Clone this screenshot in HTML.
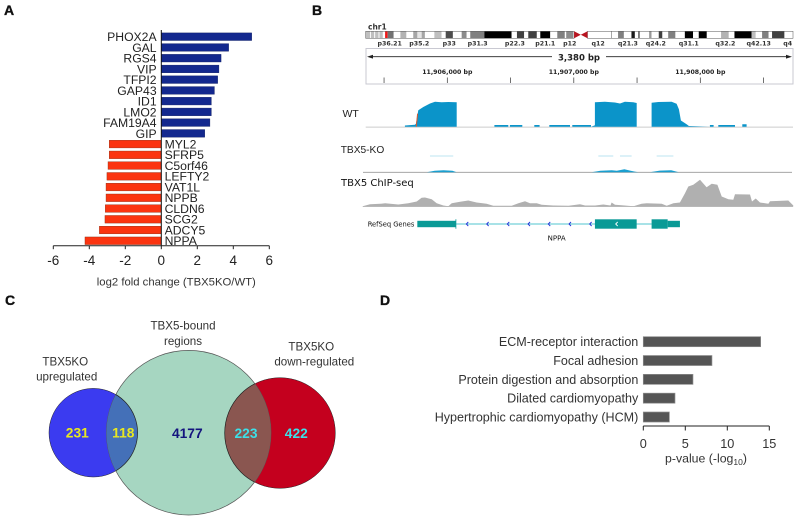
<!DOCTYPE html>
<html lang="en">
<head>
<meta charset="utf-8">
<title>TBX5 knockout figure</title>
<style>
html,body{margin:0;padding:0;background:#fff;}
#figure{display:block;width:800px;height:520px;font-family:"Liberation Sans",sans-serif;}
text{font-family:"Liberation Sans",sans-serif;}
.dj{font-family:"DejaVu Sans",sans-serif;}
.letter{stroke:#111;stroke-width:0.35;}
</style>
</head>
<body>
<svg id="figure" xmlns="http://www.w3.org/2000/svg" width="800" height="520" viewBox="0 0 800 520">
  <rect x="0" y="0" width="800" height="520" fill="#fff"/>
  <g id="panelA">
    <text class="letter" x="4" y="15" font-size="14" font-weight="bold" fill="#111">A</text>
  </g>
  <g id="panelB">
    <text class="letter" x="312" y="15" font-size="14" font-weight="bold" fill="#111">B</text>
    <text class="dj" x="368" y="29.5" font-size="7.5" font-weight="bold" fill="#333">chr1</text>
    <rect x="366" y="48.5" width="427" height="35.5" fill="none" stroke="#c9c9d2" stroke-width="1"/>
    <text class="dj" x="579" y="60.5" font-size="8.5" font-weight="bold" text-anchor="middle" fill="#222">3,380 bp</text>
    <line x1="370" y1="56.7" x2="552" y2="56.7" stroke="#222" stroke-width="0.8"/>
    <line x1="606" y1="56.7" x2="789" y2="56.7" stroke="#222" stroke-width="0.8"/>
    <polygon points="367,56.7 373,54.8 373,58.6" fill="#222"/>
    <polygon points="792,56.7 786,54.8 786,58.6" fill="#222"/>
    <text x="342.5" y="117" font-size="10.5" fill="#222">WT</text>
    <text x="340.7" y="153" font-size="10.2" fill="#222">TBX5-KO</text>
    <text class="dj" x="341" y="186" font-size="10" fill="#111">TBX5 ChIP-seq</text>
    <text class="dj" x="367.7" y="226.3" font-size="6.7" fill="#111">RefSeq Genes</text>
    <text class="dj" x="556.7" y="240.7" font-size="7" text-anchor="middle" fill="#111">NPPA</text>
  </g>
  <g id="panelC">
    <text class="letter" x="5" y="305" font-size="14" font-weight="bold" fill="#111">C</text>
    <defs>
      <clipPath id="clipGreen"><circle cx="188.7" cy="432.7" r="82.3"/></clipPath>
    </defs>
    <circle cx="93.3" cy="432.7" r="44.3" fill="#3b3bf0" stroke="#222" stroke-width="0.5"/>
    <circle cx="280" cy="433" r="55.3" fill="#c4001e" stroke="#222" stroke-width="0.5"/>
    <circle cx="188.7" cy="432.7" r="82.3" fill="#a6d6c1" stroke="#555" stroke-width="0.7"/>
    <g clip-path="url(#clipGreen)">
      <circle cx="93.3" cy="432.7" r="44.3" fill="#4470b8" stroke="#222" stroke-width="0.7"/>
      <circle cx="280" cy="433" r="55.3" fill="#8a5650" stroke="#222" stroke-width="0.7"/>
    </g>
    <g font-size="13.8" font-weight="bold" text-anchor="middle">
      <text x="77.3" y="437.5" fill="#e8e820">231</text>
      <text x="123.3" y="437.5" fill="#e8e820">118</text>
      <text x="187.3" y="438" fill="#14147e">4177</text>
      <text x="246" y="438" fill="#3de0e8">223</text>
      <text x="296.3" y="438" fill="#3de0e8">422</text>
    </g>
    <g font-size="11.6" text-anchor="middle" fill="#333">
      <text x="183" y="329.5">TBX5-bound</text>
      <text x="183" y="345">regions</text>
      <text x="65.3" y="365.5">TBX5KO</text>
      <text x="66.7" y="380.5">upregulated</text>
      <text x="311.3" y="350.5">TBX5KO</text>
      <text x="314.3" y="365.5">down-regulated</text>
    </g>
  </g>
  <g id="panelD">
    <text class="letter" x="380" y="305" font-size="14" font-weight="bold" fill="#111">D</text>
  </g>
</svg>
<script>
// Panel A data
const geneNames = ['PHOX2A','GAL','RGS4','VIP','TFPI2','GAP43','ID1','LMO2','FAM19A4','GIP','MYL2','SFRP5','C5orf46','LEFTY2','VAT1L','NPPB','CLDN6','SCG2','ADCY5','NPPA'];
const foldChanges = [5.02,3.74,3.32,3.2,3.13,2.95,2.78,2.78,2.7,2.41,-2.89,-2.89,-2.96,-3.02,-3.07,-3.07,-3.11,-3.13,-3.44,-4.24];
const foldTicks = [-6,-4,-2,0,2,4,6];

// Panel D data
const pathwayNames = ['ECM-receptor interaction','Focal adhesion','Protein digestion and absorption','Dilated cardiomyopathy','Hypertrophic cardiomyopathy (HCM)'];
const pathwayValues = [13.97,8.17,5.91,3.77,3.1];
const pathwayTicks = [0,5,10,15];

// Panel B data: chromosome 1 ideogram (Mb, stain %; -1 = marked region, null = centromere gap)
const bandStarts = [0,2.5,3,5,5.5,7.5,8,10,11.3,12.8,16.3,20.2,23.7,27.7,30.1,32.6,34.5,40,44.2,46.6,50.8,55.9,58.8,60.9,69.1,85,88.1,92.3,94.7,99.7,101.7,107.5,111.6,116,116.8,120.9,129.2,142.9,143.3,147,150.4,154.8,156.8,158.7,159.7,165.1,166.5,170.7,172.8,176.2,180.4,185.9,190.7,194,198.7,207,211.5,214.8,224.8,227.2,230.9,234.7,236.7,243.9];
const bandStains = [25,0,25,0,25,0,25,0,-1,55,0,30,0,35,10,35,0,25,0,70,0,45,0,50,100,0,75,0,75,0,100,0,50,0,45,null,0,60,0,50,0,90,0,60,0,40,0,75,0,50,0,100,0,100,0,30,0,100,25,0,50,0,75,0];
const chromosomeEndMb = 248.9;
const centromereMb = [121.4,125.3,129.2];
const cytobandNames = ['p36.21','p35.2','p33','p31.3','p22.3','p21.1','p12','q12','q21.3','q24.2','q31.1','q32.2','q42.13','q4'];
const cytobandCentersMb = [14,31.2,48.7,65.2,86.9,104.6,118.9,135.4,152.7,169,188.2,209.5,228.9,245.8];

// Panel B data: genomic tracks (bp relative to 11,906,000)
const rulerTicks = [-500,0,500,1000,1500,2000,2500];
const rulerLabels = ['','11,906,000 bp','','11,907,000 bp','','11,908,000 bp',''];
const wtPositions = [-335,-256,-248,-242,-229,-190,-137,-97,-45,8,74,74,372,372,482,482,495,495,593,593,688,688,730,730,806,806,970,970,988,988,1136,1136,1157,1167,1167,1246,1325,1365,1404,1470,1497,1497,1615,1615,1668,1773,1813,1831,1847,1892,1910,2076,2076,2105,2105,2142,2142,2274,2274,2332,2332,2366,2366];
const wtValues = [5,8,12,30,66,79,93,100,98,99,98,0,0,7,7,0,0,7,7,0,0,7,7,0,0,7,7,0,0,7,7,0,4,6,98,100,97,93,100,98,95,0,0,96,99,100,92,70,25,10,3,0,7,7,0,0,7,7,0,0,10,10,0];
const koPositions = [-163,-100,-30,40,74,1140,1210,1300,1340,1400,1450,1510,1600,1680,1770,1830];
const koValues = [0,6,8,6,0,0,6,8,6,12,6,0,0,7,8,0];
const koDashStarts = [-137,1194,1365,1655];
const koDashEnds = [47,1312,1457,1787];
const chipPositions = [-677,-611,-530,-492,-387,-308,-242,-203,-176,-123,-84,-31,8,35,101,166,232,311,364,509,562,614,654,707,746,838,959,1049,1089,1168,1233,1290,1299,1326,1379,1471,1536,1576,1695,1734,1787,1839,1879,1905,1945,1998,2050,2090,2135,2169,2222,2261,2274,2393,2409,2438,2472,2538,2551,2696,2735];
const chipValues = [0,7,8,10,6,10,15,26,27,22,10,3,1,10,14,18,12,8,2,2,10,16,10,10,5,3,2,7,3,3,6,3,12,5,4,1,8,10,8,2,10,12,40,60,65,80,58,68,65,30,22,20,37,36,15,24,12,8,16,18,3];
const exonStarts = [-237,1167,1615,1742];
const exonEnds = [68,1497,1742,1839];
const exonIsCoding = [false,true,true,false];
const intronStart = 68;
const intronEnd = 1615;
const chevronPositions = [158,319,482,646,806,970,1133];
const codingChevronPosition = 1339;

const NS = 'http://www.w3.org/2000/svg';
function mk(tag, attrs, parent, content) {
  const el = document.createElementNS(NS, tag);
  for (const k in attrs) el.setAttribute(k, attrs[k]);
  if (content !== undefined) el.textContent = content;
  parent.appendChild(el);
  return el;
}
function slug(s) { return s.toLowerCase().replace(/[^a-z0-9]+/g, '-').replace(/^-|-$/g, ''); }

// ---------- Panel A ----------
(function () {
  const g = document.getElementById('panelA');
  const xA = v => 161.3 + v * 18;
  const yA = i => 36.7 + i * 10.74;
  const axisY = 245.7;
  geneNames.forEach((name, i) => {
    const v = foldChanges[i];
    const bar = mk('rect', {x: Math.min(xA(v), xA(0)), y: yA(i) - 3.8, width: Math.abs(xA(v) - xA(0)), height: 7.6, fill: v > 0 ? '#13288e' : '#fb3410', stroke: v > 0 ? '#0e1c60' : '#8a2a10', 'stroke-width': 0.4}, g);
    
    
    const lab = mk('text', {x: v > 0 ? 156.6 : 164.6, y: yA(i) + 4.4, 'font-size': 12.2, 'text-anchor': v > 0 ? 'end' : 'start', fill: '#222'}, g, name);
    
    
  });
  const yAxis = mk('line', {x1: xA(0), y1: 30, x2: xA(0), y2: axisY, stroke: '#111', 'stroke-width': 1}, g);
  
  
  const xAxis = mk('line', {x1: xA(foldTicks[0]), y1: axisY, x2: xA(foldTicks[foldTicks.length - 1]), y2: axisY, stroke: '#222', 'stroke-width': 1}, g);
  
  
  foldTicks.forEach(t => {
    const tick = mk('line', {x1: xA(t), y1: axisY, x2: xA(t), y2: axisY + 3.5, stroke: '#222', 'stroke-width': 1}, g);
    
    
    const lab = mk('text', {x: xA(t), y: 264.8, 'font-size': 13.5, 'text-anchor': 'middle', fill: '#222'}, g, String(t));
    
    
  });
  const title = mk('text', {x: 176.3, y: 285.5, 'font-size': 11, 'text-anchor': 'middle', fill: '#333', textLength: 159, lengthAdjust: 'spacingAndGlyphs'}, g, 'log2 fold change (TBX5KO/WT)');
  
  
})();

// ---------- Panel B ----------
(function () {
  const g = document.getElementById('panelB');
  const xMb = m => 365.7 + m * (427.3 / chromosomeEndMb);
  const xBp = b => 447.3 + b * 0.1265;
  const top = 31.3, h = 7;
  bandStarts.forEach((s, i) => {
    const stain = bandStains[i];
    if (stain === null) return;
    const e = i + 1 < bandStarts.length ? bandStarts[i + 1] : chromosomeEndMb;
    const c = Math.round(255 * (1 - stain / 100));
    const band = mk('rect', {x: xMb(s), y: top, width: xMb(e) - xMb(s), height: h, fill: stain < 0 ? '#f01818' : 'rgb(' + c + ',' + c + ',' + c + ')'}, g);
    
    
  });
  const pOutline = mk('rect', {x: xMb(0), y: top, width: xMb(centromereMb[0]) - xMb(0), height: h, fill: 'none', stroke: '#555', 'stroke-width': 0.5}, g);
  
  
  const qOutline = mk('rect', {x: xMb(centromereMb[2]), y: top, width: xMb(chromosomeEndMb) - xMb(centromereMb[2]), height: h, fill: 'none', stroke: '#555', 'stroke-width': 0.5}, g);
  
  
  const cen = mk('polygon', {points: [
    xMb(centromereMb[0]) + ',' + top, xMb(centromereMb[1]) + ',' + (top + h / 2), xMb(centromereMb[2]) + ',' + top,
    xMb(centromereMb[2]) + ',' + (top + h), xMb(centromereMb[1]) + ',' + (top + h / 2), xMb(centromereMb[0]) + ',' + (top + h)
  ].join(' '), fill: '#b81420'}, g);
  
  
  cytobandNames.forEach((n, i) => {
    const lab = mk('text', {x: xMb(cytobandCentersMb[i]), y: 45.5, 'font-size': 6.3, 'font-weight': 'bold', 'text-anchor': 'middle', fill: '#333', class: 'dj'}, g, n);
    
    
  });
  rulerTicks.forEach((t, i) => {
    const tick = mk('line', {x1: xBp(t), y1: 77.5, x2: xBp(t), y2: 83, stroke: '#333', 'stroke-width': 0.7}, g);
    
    
    if (rulerLabels[i]) {
      const lab = mk('text', {x: xBp(t), y: 74.2, 'font-size': 6.2, 'font-weight': 'bold', 'text-anchor': 'middle', fill: '#222', class: 'dj'}, g, rulerLabels[i]);
      
      
    }
  });
  function area(pos, vals, base, scale) {
    let d = 'M' + xBp(pos[0]).toFixed(1) + ',' + base;
    pos.forEach((p, i) => { d += 'L' + xBp(p).toFixed(1) + ',' + (base - vals[i] * scale).toFixed(1); });
    d += 'L' + xBp(pos[pos.length - 1]).toFixed(1) + ',' + base + 'Z';
    return d;
  }
  const wtBaseY = 126.7, koBaseY = 172.3, chipBaseY = 206.5;
  const wtBase = mk('line', {x1: 365.7, y1: wtBaseY + 0.4, x2: 793, y2: wtBaseY + 0.4, stroke: '#ccc', 'stroke-width': 1}, g);
  
  
  const wt = mk('path', {d: area(wtPositions, wtValues, wtBaseY, 0.25), fill: '#0b94c9'}, g);
  
  
  const wtSnp = mk('line', {x1: xBp(-245), y1: wtBaseY, x2: xBp(-235), y2: wtBaseY - 13, stroke: '#e0562a', 'stroke-width': 1}, g);
  
  
  const koBase = mk('line', {x1: 363, y1: koBaseY, x2: 792, y2: koBaseY, stroke: '#999', 'stroke-width': 0.8}, g);
  
  
  const ko = mk('path', {d: area(koPositions, koValues, koBaseY, 0.25), fill: '#1a9fd0'}, g);
  
  
  koDashStarts.forEach((s, i) => {
    const dash = mk('line', {x1: xBp(s), y1: 156, x2: xBp(koDashEnds[i]), y2: 156, stroke: '#a8dcec', 'stroke-width': 0.8}, g);
    
    
  });
  const chipBase = mk('line', {x1: 363, y1: chipBaseY, x2: 793, y2: chipBaseY, stroke: '#aaa', 'stroke-width': 0.8}, g);
  
  
  const chip = mk('path', {d: area(chipPositions, chipValues, chipBaseY, 1 / 3), fill: '#b0b0b0'}, g);
  
  
  const geneY = 224;
  const intron = mk('line', {x1: xBp(intronStart), y1: geneY, x2: xBp(intronEnd), y2: geneY, stroke: '#52c4cf', 'stroke-width': 0.9}, g);
  
  
  exonStarts.forEach((s, i) => {
    const ht = exonIsCoding[i] ? 9.4 : 6.4;
    const exon = mk('rect', {x: xBp(s), y: geneY - ht / 2, width: xBp(exonEnds[i]) - xBp(s), height: ht, fill: '#0a9a96'}, g);
    
    
  });
  const cap = mk('line', {x1: xBp(exonEnds[0]), y1: geneY - 4.7, x2: xBp(exonEnds[0]), y2: geneY + 4.7, stroke: '#0a9a96', 'stroke-width': 0.8}, g);
  
  
  function chevron(b, color) {
    const x = xBp(b);
    return mk('polyline', {points: (x + 1) + ',' + (geneY - 2) + ' ' + (x - 1) + ',' + geneY + ' ' + (x + 1) + ',' + (geneY + 2), fill: 'none', stroke: color, 'stroke-width': 0.9}, g);
  }
  chevronPositions.forEach(b => {
    const c = chevron(b, '#2030d8');
    
    
  });
  const wc = chevron(codingChevronPosition, '#ffffff');
  
  
})();

// ---------- Panel D ----------
(function () {
  const g = document.getElementById('panelD');
  const xD = v => 643.3 + v * 8.4;
  const yD = i => 341.7 + i * 18.83;
  const axisY = 426;
  pathwayNames.forEach((n, i) => {
    const bar = mk('rect', {x: xD(0), y: yD(i) - 5, width: xD(pathwayValues[i]) - xD(0), height: 10, fill: '#555', stroke: '#8c8c8c', 'stroke-width': 0.7}, g);
    
    
    const lab = mk('text', {x: 638.3, y: yD(i) + 4.4, 'font-size': 12.55, 'text-anchor': 'end', fill: '#333'}, g, n);
    
    
  });
  const axis = mk('line', {x1: xD(0), y1: axisY, x2: xD(15), y2: axisY, stroke: '#222', 'stroke-width': 1}, g);
  
  
  pathwayTicks.forEach(t => {
    const tick = mk('line', {x1: xD(t), y1: axisY, x2: xD(t), y2: axisY + 4.5, stroke: '#222', 'stroke-width': 1}, g);
    
    
    const lab = mk('text', {x: xD(t), y: 447.8, 'font-size': 12.7, 'text-anchor': 'middle', fill: '#333'}, g, String(t));
    
    
  });
  const title = mk('text', {x: 706, y: 462.5, 'font-size': 12.3, 'text-anchor': 'middle', fill: '#333'}, g);
  
  
  title.appendChild(document.createTextNode('p-value (-log'));
  const sub = mk('tspan', {'font-size': 8.5, dy: 2.5}, title, '10');
  
  
  const close = mk('tspan', {dy: -2.5}, title, ')');
  
  
})();
</script>
</body>
</html>
